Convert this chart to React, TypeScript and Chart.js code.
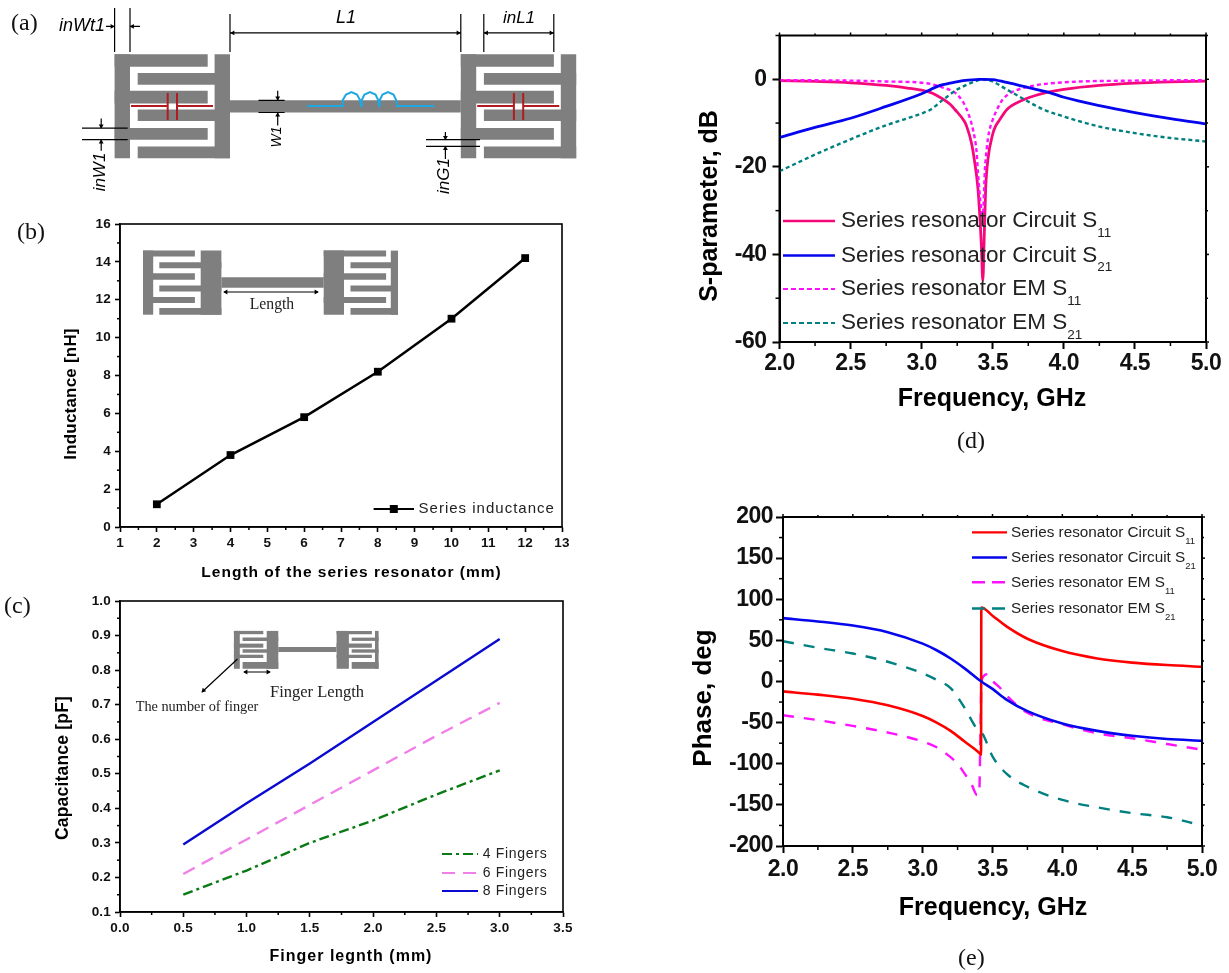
import React, { useEffect, useRef } from "react";
import { Chart, registerables } from "chart.js";
Chart.register(...registerables);

// ---------- Panel (b) data ----------
const lengthMm = [2, 4, 6, 8, 10, 12];
const inductanceNh = [1.2, 3.8, 5.8, 8.2, 11.0, 14.2];

// ---------- Panel (c) data ----------
const fingerLength = [0.5, 1.0, 1.5, 2.0, 2.5, 3.0];
const cap4Fingers = [0.15, 0.22, 0.3, 0.365, 0.44, 0.51];
const cap6Fingers = [0.21, 0.31, 0.41, 0.51, 0.61, 0.705];
const cap8Fingers = [0.295, 0.415, 0.53, 0.65, 0.77, 0.89];

// ---------- Panel (d) data ----------
const dS11CircuitF = [2, 2.25, 2.5, 2.75, 2.9, 3, 3.06, 3.1, 3.2, 3.234, 3.3, 3.316, 3.35, 3.37, 3.396, 3.42, 3.43, 3.44, 3.45, 3.466, 3.5, 3.52, 3.55, 3.6, 3.7, 3.8, 3.88, 4, 4.25, 4.5, 4.75, 5];
const dS11Circuit = [-0.3, -0.5, -0.8, -1.4, -2, -2.5, -3, -3.6, -5.7, -6.9, -9.6, -10.7, -14.5, -18.3, -25, -38, -46, -36, -25, -18.3, -12.5, -10.7, -9.2, -6.9, -4.9, -3.7, -3, -2.3, -1.4, -0.9, -0.6, -0.4];
const dS21CircuitF = [2, 2.25, 2.5, 2.75, 3, 3.13, 3.2, 3.29, 3.4, 3.43, 3.5, 3.62, 3.7, 3.9, 4, 4.25, 4.5, 4.75, 5];
const dS21Circuit = [-13.3, -11, -8.9, -6.2, -3.3, -1.4, -0.9, -0.3, -0.03, 0, -0.1, -0.9, -1.5, -3.05, -4.1, -6, -7.6, -9, -10.2];
const dS11EmF = [2, 2.5, 2.75, 3.035, 3.15, 3.234, 3.293, 3.33, 3.363, 3.387, 3.396, 3.43, 3.445, 3.457, 3.473, 3.5, 3.53, 3.57, 3.633, 3.78, 4, 4.5, 5];
const dS11Em = [-0.2, -0.3, -0.5, -0.9, -1.9, -3.05, -5.3, -8, -11.8, -16.8, -21.4, -31, -20.6, -16, -12.2, -9.2, -6.9, -4.6, -3, -1.5, -0.7, -0.3, -0.2];
const dS21EmF = [2, 2.25, 2.5, 2.75, 3, 3.058, 3.15, 3.246, 3.3, 3.4, 3.43, 3.5, 3.57, 3.69, 3.85, 4, 4.25, 4.5, 4.75, 5];
const dS21Em = [-21, -17.2, -13.7, -10.5, -7.8, -7, -4.7, -2.4, -1.5, -0.2, 0, -0.5, -1.8, -4, -6.8, -8.5, -10.8, -12.3, -13.4, -14.2];

// ---------- Panel (e) data ----------
const eS11CircuitF = [2, 2.25, 2.5, 2.75, 3, 3.1, 3.2, 3.3, 3.4, 3.418, 3.42, 3.5, 3.6, 3.75, 4, 4.25, 4.5, 4.75, 5];
const eS11Circuit = [-12, -16, -21, -29, -42, -50, -60, -73, -86, -89, 90, 80, 67, 52, 37, 28, 23, 20, 18];
const eS21CircuitF = [2, 2.25, 2.5, 2.75, 3, 3.1, 3.2, 3.3, 3.42, 3.5, 3.6, 3.75, 4, 4.25, 4.5, 4.75, 5];
const eS21Circuit = [77, 73, 68, 60, 46, 38, 28, 16, 0, -9, -22, -36, -51, -60, -66, -70, -72];
const eS11EmF = [2, 2.25, 2.5, 2.75, 3, 3.1, 3.2, 3.25, 3.3, 3.35, 3.39, 3.405, 3.41, 3.415, 3.42, 3.43, 3.47, 3.5, 3.55, 3.6, 3.75, 4, 4.25, 4.5, 4.75, 5];
const eS11Em = [-41, -47, -54, -62, -73, -80, -92, -100, -112, -125, -138, -138, -100, -50, -5, 5, 9, 1, -7, -17, -38, -52, -63, -69, -76, -83];
const eS21EmF = [2, 2.25, 2.5, 2.75, 3, 3.1, 3.2, 3.3, 3.386, 3.43, 3.5, 3.6, 3.75, 4, 4.25, 4.5, 4.75, 4.93];
const eS21Em = [49, 41, 34, 24, 10, 2, -8, -32, -57, -64, -91, -112, -128, -144, -153, -160, -165, -172];

// ---------- Labels ----------
const seriesLabelsD = ["Series resonator Circuit S", "Series resonator Circuit S", "Series resonator EM S", "Series resonator EM S"];
const seriesSubs = ["11", "21", "11", "21"];
const fingerLabels = ["4 Fingers", "6 Fingers", "8 Fingers"];
const SANS = '"Liberation Sans", Arial, sans-serif';
const SERIF = '"Liberation Serif", "Times New Roman", serif';

const zip = (xs: number[], ys: number[]) => xs.map((x, i) => ({ x, y: ys[i] }));

type TextItem = { t: string; x: number; y: number; font: string; rot?: number; align?: CanvasTextAlign; ls?: string; color?: string };
type LegendItem = { label: string; sub?: string; color: string; dash?: number[]; width: number; y: number; marker?: boolean };

function drawText(ctx: CanvasRenderingContext2D, it: TextItem) {
  ctx.save();
  ctx.translate(it.x, it.y);
  if (it.rot) ctx.rotate(it.rot);
  ctx.font = it.font;
  ctx.fillStyle = it.color || "#000";
  ctx.textAlign = it.align || "center";
  ctx.textBaseline = "middle";
  (ctx as any).letterSpacing = it.ls || "0px";
  ctx.fillText(it.t, 0, 0);
  ctx.restore();
}

type PanelCfg = {
  canvas: [number, number, number, number];
  plot: [number, number, number, number];
  x: [number, number, number, number];
  y: [number, number, number, number];
  digitsX: number;
  digitsY: number;
  tickFont: { size: number };
  tickLen: number;
  minorLen: number;
  padX: number;
  padY: number;
  frame: number;
  mirror: boolean;
  spacing: string;
  series: any[];
  texts: TextItem[];
  legend: { items: LegendItem[]; x0: number; x1: number; xText: number; font: string; ls?: string; subFont?: string; subDy?: number };
};

function Panel({ cfg }: { cfg: PanelCfg }) {
  const ref = useRef<HTMLCanvasElement>(null);
  useEffect(() => {
    const [cl, ct, cr, cb] = cfg.canvas;
    const [pl, pt, pr, pb] = cfg.plot;
    const decor = {
      id: "decor",
      beforeDraw(chart: any) {
        chart.ctx.letterSpacing = cfg.spacing;
      },
      afterDraw(chart: any) {
        const ctx = chart.ctx as CanvasRenderingContext2D;
        const a = chart.chartArea;
        ctx.save();
        (ctx as any).letterSpacing = "0px";
        ctx.strokeStyle = "#000";
        ctx.lineWidth = cfg.frame;
        ctx.strokeRect(a.left, a.top, a.right - a.left, a.bottom - a.top);
        const tick = (x1: number, y1: number, x2: number, y2: number) => {
          ctx.beginPath();
          ctx.moveTo(x1, y1);
          ctx.lineTo(x2, y2);
          ctx.stroke();
        };
        const [x0, x1, xMaj, xMin] = cfg.x;
        const [y0, y1, yMaj, yMin] = cfg.y;
        ctx.lineWidth = Math.max(1.5, cfg.frame - 0.5);
        const nx = Math.round((x1 - x0) / xMin);
        for (let i = 0; i <= nx; i++) {
          const v = x0 + i * xMin;
          const p = chart.scales.x.getPixelForValue(v);
          const isMaj = Math.abs(v / xMaj - Math.round(v / xMaj)) < 1e-6;
          if (!isMaj) tick(p, a.bottom, p, a.bottom + cfg.minorLen);
          if (cfg.mirror) tick(p, a.top, p, a.top - (isMaj ? 3 : 2));
        }
        const ny = Math.round((y1 - y0) / yMin);
        for (let i = 0; i <= ny; i++) {
          const v = y0 + i * yMin;
          const p = chart.scales.y.getPixelForValue(v);
          const isMaj = Math.abs(v / yMaj - Math.round(v / yMaj)) < 1e-6;
          if (!isMaj) tick(a.left, p, a.left - cfg.minorLen, p);
          if (cfg.mirror) tick(a.right, p, a.right + (isMaj ? 3 : 2), p);
        }
        ctx.translate(-cl, -ct);
        const lg = cfg.legend;
        lg.items.forEach((it) => {
          ctx.save();
          ctx.strokeStyle = it.color;
          ctx.lineWidth = it.width;
          ctx.setLineDash(it.dash || []);
          tick(lg.x0, it.y, lg.x1, it.y);
          ctx.restore();
          if (it.marker) {
            ctx.fillStyle = it.color;
            ctx.fillRect((lg.x0 + lg.x1) / 2 - 4, it.y - 4, 8, 8);
          }
          ctx.font = lg.font;
          (ctx as any).letterSpacing = lg.ls || "0px";
          ctx.fillStyle = "#222";
          ctx.textAlign = "left";
          ctx.textBaseline = "middle";
          ctx.fillText(it.label, lg.xText, it.y);
          if (it.sub) {
            const w = ctx.measureText(it.label).width;
            ctx.font = lg.subFont || lg.font;
            ctx.fillText(it.sub, lg.xText + w, it.y + (lg.subDy || 0));
          }
          (ctx as any).letterSpacing = "0px";
        });
        cfg.texts.forEach((t) => drawText(ctx, t));
        ctx.restore();
      },
    };
    const L = pl - cl;
    const B = cb - pb;
    const fmt = (d: number) => (v: any) => Number(v).toFixed(d);
    const chart = new Chart(ref.current!, {
      type: "scatter",
      data: { datasets: cfg.series },
      plugins: [decor],
      options: {
        animation: false,
        responsive: false,
        devicePixelRatio: 1,
        layout: { autoPadding: false, padding: { left: 0, bottom: 0, top: pt - ct, right: cr - pr } },
        plugins: { legend: { display: false }, tooltip: { enabled: false }, title: { display: false } },
        scales: {
          x: {
            type: "linear",
            min: cfg.x[0],
            max: cfg.x[1],
            afterFit(s: any) {
              s.height = B;
              s.paddingLeft = s.paddingRight = 0;
            },
            grid: { display: true, drawOnChartArea: false, drawTicks: true, tickLength: cfg.tickLen, tickColor: "#000", tickWidth: cfg.frame },
            border: { display: true, color: "#000", width: cfg.frame },
            ticks: {
              stepSize: cfg.x[2],
              includeBounds: false,
              autoSkip: false,
              maxRotation: 0,
              color: "#111",
              padding: cfg.padX,
              font: { family: SANS, weight: "bold", size: cfg.tickFont.size },
              callback: fmt(cfg.digitsX),
            },
          },
          y: {
            type: "linear",
            min: cfg.y[0],
            max: cfg.y[1],
            afterFit(s: any) {
              s.width = L;
              s.paddingTop = s.paddingBottom = 0;
            },
            grid: { display: true, drawOnChartArea: false, drawTicks: true, tickLength: cfg.tickLen, tickColor: "#000", tickWidth: cfg.frame },
            border: { display: true, color: "#000", width: cfg.frame },
            ticks: {
              stepSize: cfg.y[2],
              includeBounds: false,
              autoSkip: false,
              color: "#111",
              padding: cfg.padY,
              font: { family: SANS, weight: "bold", size: cfg.tickFont.size },
              callback: fmt(cfg.digitsY),
            },
          },
        },
      } as any,
    });
    return () => chart.destroy();
  }, []);
  const [cl, ct, cr, cb] = cfg.canvas;
  return (
    <canvas
      ref={ref}
      width={cr - cl}
      height={cb - ct}
      style={{ position: "absolute", left: cl, top: ct, width: cr - cl, height: cb - ct }}
    />
  );
}

// ---------- Schematic geometry (drawn as thick line datasets on a page-sized scale) ----------
type Block = { barL: number[]; barR: number[]; endL: number; startR: number; ys: number[][] };
const blockRects = (b: Block) => {
  const top = b.ys[0][0];
  const bot = b.ys[5][1];
  const r: number[][] = [
    [b.barL[0], top, b.barL[1], bot],
    [b.barR[0], top, b.barR[1], bot],
  ];
  b.ys.forEach((y, i) => {
    if (i % 2 === 0) r.push([b.barL[0], y[0], b.endL, y[1]]);
    else r.push([b.startR, y[0], b.barR[1], y[1]]);
  });
  return r;
};
const ysA = [[54.2, 66.8], [72.9, 84.7], [90.8, 103.4], [109.5, 121], [128.1, 139.7], [146.4, 158.3]];
const ysB = [[250.6, 256.6], [262.2, 268.2], [273.2, 279.8], [285.5, 291.4], [297.1, 303], [308, 314.7]];
const ysC = [[630.9, 634.2], [637.6, 640.9], [643.6, 647.7], [649.3, 652.7], [654.7, 658], [662, 668.8]];
const grayRects = [
  ...blockRects({ barL: [114.6, 130], barR: [214.6, 230], endL: 207.7, startR: 137.7, ys: ysA }),
  ...blockRects({ barL: [460.8, 476.2], barR: [560.8, 576.2], endL: 553.9, startR: 483.9, ys: ysA }),
  [230, 100.3, 460.8, 112.5],
  ...blockRects({ barL: [143, 153.2], barR: [200.7, 221.4], endL: 194.9, startR: 159.3, ys: ysB }),
  ...blockRects({ barL: [323.7, 344], barR: [390.8, 398], endL: 386.1, startR: 350.5, ys: ysB }),
  [221.4, 277.2, 323.7, 287.8],
  ...blockRects({ barL: [233.9, 239.8], barR: [266.7, 278.3], endL: 263.3, startR: 242.6, ys: ysC }),
  ...blockRects({ barL: [336.6, 348.9], barR: [375, 378.6], endL: 371.9, startR: 351.7, ys: ysC }),
  [278.3, 647, 336.6, 652],
];
const dimensionLines = [
  [114.6, 8, 114.6, 52], [130, 8, 130, 52], [106, 26.4, 114.6, 26.4], [130, 26.4, 140, 26.4],
  [230, 14, 230, 52], [460.8, 14, 460.8, 52], [230, 32.9, 460.8, 32.9],
  [483.8, 14, 483.8, 52], [553.8, 14, 553.8, 52], [483.8, 32.9, 553.8, 32.9],
  [258.5, 100.3, 284.6, 100.3], [258.5, 112.5, 284.6, 112.5], [277.7, 90.8, 277.7, 100.3], [277.7, 112.5, 277.7, 125.4],
  [82, 128.1, 127.7, 128.1], [82, 139.7, 127.7, 139.7], [101.2, 118.6, 101.2, 128.1], [101.2, 139.7, 101.2, 150.8],
  [426, 139.7, 480, 139.7], [426, 146.4, 480, 146.4], [445.4, 132, 445.4, 139.7], [445.4, 146.4, 445.4, 159],
  [224, 292, 318, 292], [244, 672, 270, 672], [237.5, 659, 202, 692],
];
// arrow heads: x, y, rotation
const arrowHeads = [
  [112, 26.4, 90], [132.5, 26.4, -90], [233, 32.9, -90], [458, 32.9, 90], [486.5, 32.9, -90], [551, 32.9, 90],
  [277.7, 98, 180], [277.7, 115, 0], [101.2, 126, 180], [101.2, 142, 0], [445.4, 137.5, 180], [445.4, 148.5, 0],
  [226, 292, -90], [316, 292, 90], [246, 672, -90], [268, 672, 90], [203.5, 690.5, 225],
];
const capacitorLines = [
  [131, 106, 167.7, 106], [177, 106, 213, 106], [167.7, 93, 167.7, 120], [177, 93, 177, 120],
  [477.2, 106, 513.9, 106], [523.2, 106, 559.2, 106], [513.9, 93, 513.9, 120], [523.2, 93, 523.2, 120],
];
const inductorPath = [
  [307, 106], [342, 106], [342.8, 100], [346, 94.5], [351.5, 92], [357, 94.5], [360, 100], [361, 106],
  [361.8, 100], [364.5, 94.5], [370, 92], [375.5, 94.5], [378.2, 100], [379, 106],
  [379.8, 100], [382.5, 94.5], [388, 92], [393.5, 94.5], [396.2, 100], [397, 106], [434, 106],
];
const withGaps = (segs: number[][]) => {
  const out: { x: number; y: number }[] = [];
  segs.forEach((s) => {
    out.push({ x: s[0], y: s[1] }, { x: s[2], y: s[3] }, { x: NaN, y: NaN });
  });
  return out;
};
const it18 = `italic 18px ${SANS}`;
const it17 = `italic 17px ${SANS}`;
const diagramTexts: TextItem[] = [
  { t: "inWt1", x: 82, y: 26.4, font: it18 },
  { t: "L1", x: 346, y: 18, font: it18 },
  { t: "inL1", x: 519, y: 18, font: it17 },
  { t: "W1", x: 277, y: 137, font: `italic 14px ${SANS}`, rot: -Math.PI / 2 },
  { t: "inW1", x: 100, y: 172, font: it17, rot: -Math.PI / 2 },
  { t: "inG1", x: 444, y: 176, font: it17, rot: -Math.PI / 2 },
  { t: "Length", x: 272, y: 305, font: `15.7px ${SERIF}`, color: "#222" },
  { t: "Finger Length", x: 317, y: 693, font: `16.5px ${SERIF}`, color: "#222" },
  { t: "The number of finger", x: 197, y: 707, font: `14.3px ${SERIF}`, color: "#222" },
];

function Diagram() {
  const ref = useRef<HTMLCanvasElement>(null);
  useEffect(() => {
    const lines = (data: any[], color: string, width: number, extra: any = {}) => ({
      data,
      showLine: true,
      borderColor: color,
      backgroundColor: color,
      borderWidth: width,
      pointRadius: 0,
      borderCapStyle: "butt",
      spanGaps: false,
      tension: 0,
      ...extra,
    });
    // Chart.js paints the first dataset last, so the overlays come first and the gray metal last.
    const datasets: any[] = [];
    datasets.push({
      data: arrowHeads.map((a) => ({ x: a[0], y: a[1] })),
      showLine: false,
      pointStyle: "triangle",
      pointRadius: 2.8,
      pointRotation: arrowHeads.map((a) => a[2]),
      backgroundColor: "#000",
      borderColor: "#000",
      borderWidth: 0,
    });
    datasets.push(lines(withGaps(dimensionLines), "#000", 1.2));
    datasets.push(lines(withGaps(capacitorLines), "#b01c22", 2));
    datasets.push(lines(inductorPath.map((p) => ({ x: p[0], y: p[1] })), "#1ea7e0", 2));
    grayRects.forEach((r) =>
      datasets.push(lines([{ x: r[0], y: (r[1] + r[3]) / 2 }, { x: r[2], y: (r[1] + r[3]) / 2 }], "#7f7f7f", r[3] - r[1]))
    );
    const texts = {
      id: "texts",
      afterDraw(chart: any) {
        diagramTexts.forEach((t) => drawText(chart.ctx, t));
      },
    };
    const chart = new Chart(ref.current!, {
      type: "scatter",
      data: { datasets },
      plugins: [texts],
      options: {
        animation: false,
        responsive: false,
        devicePixelRatio: 1,
        layout: { padding: 0, autoPadding: false },
        plugins: { legend: { display: false }, tooltip: { enabled: false } },
        scales: {
          x: { type: "linear", display: false, min: 0, max: 1229 },
          y: { type: "linear", display: false, min: 0, max: 973, reverse: true },
        },
      } as any,
    });
    return () => chart.destroy();
  }, []);
  return <canvas ref={ref} width={1229} height={973} style={{ position: "absolute", left: 0, top: 0, pointerEvents: "none" }} />;
}

// ---------- Panel configs ----------
const lineDs = (xs: number[], ys: number[], color: string, width: number, dash?: number[], smooth = true) => ({
  data: zip(xs, ys),
  showLine: true,
  borderColor: color,
  backgroundColor: color,
  borderWidth: width,
  borderDash: dash || [],
  pointRadius: 0,
  tension: 0,
  cubicInterpolationMode: smooth ? "monotone" : "default",
  clip: false,
});

const panelB: PanelCfg = {
  canvas: [40, 205, 590, 590],
  plot: [120, 224, 562, 527],
  x: [1, 13, 1, 0.5],
  y: [0, 16, 2, 1],
  digitsX: 0,
  digitsY: 0,
  tickFont: { size: 13.5 },
  tickLen: 5,
  minorLen: 3,
  padX: 3,
  padY: 4,
  frame: 1.6,
  mirror: false,
  spacing: "0.2px",
  series: [
    {
      ...lineDs(lengthMm, inductanceNh, "#000", 2.5, undefined, false),
      pointRadius: 5.5,
      pointStyle: "rect",
      pointBackgroundColor: "#000",
      pointBorderWidth: 0,
    },
  ],
  texts: [
    { t: "Length of the series resonator (mm)", x: 351.5, y: 573, font: `bold 15.5px ${SANS}`, ls: "1px" },
    { t: "Inductance [nH]", x: 71, y: 394, font: `bold 17px ${SANS}`, rot: -Math.PI / 2, ls: "0.2px" },
  ],
  legend: {
    items: [{ label: "Series inductance", color: "#000", width: 2, y: 509, marker: true }],
    x0: 373.6,
    x1: 414,
    xText: 418.6,
    font: `15px ${SANS}`,
    ls: "1px",
  },
};

const panelC: PanelCfg = {
  canvas: [30, 590, 590, 973],
  plot: [120, 601, 563, 912],
  x: [0, 3.5, 0.5, 0.25],
  y: [0.1, 1, 0.1, 0.05],
  digitsX: 1,
  digitsY: 1,
  tickFont: { size: 13.5 },
  tickLen: 5,
  minorLen: 3,
  padX: 3,
  padY: 4,
  frame: 1.6,
  mirror: false,
  spacing: "0.2px",
  series: [
    lineDs(fingerLength, cap8Fingers, "#0a0ad0", 2.4, undefined, false),
    lineDs(fingerLength, cap6Fingers, "#f080e8", 2.4, [13, 8], false),
    lineDs(fingerLength, cap4Fingers, "#0a7a14", 2.4, [10, 4, 3, 4], false),
  ],
  texts: [
    { t: "Finger legnth (mm)", x: 351, y: 957, font: `bold 16px ${SANS}`, ls: "1px" },
    { t: "Capacitance [pF]", x: 63, y: 768, font: `bold 17.5px ${SANS}`, rot: -Math.PI / 2, ls: "0.2px" },
  ],
  legend: {
    items: [
      { label: fingerLabels[0], color: "#0a7a14", width: 2.2, dash: [10, 4, 3, 4], y: 854 },
      { label: fingerLabels[1], color: "#f080e8", width: 2.2, dash: [13, 8], y: 873 },
      { label: fingerLabels[2], color: "#0a0ad0", width: 2.2, y: 891 },
    ],
    x0: 442,
    x1: 478,
    xText: 482.7,
    font: `14px ${SANS}`,
    ls: "0.7px",
  },
};

const dCol = ["#f5087a", "#0505ee", "#ff10ff", "#008080"];
const panelD: PanelCfg = {
  canvas: [685, 20, 1229, 420],
  plot: [779.5, 35.5, 1206, 342],
  x: [2, 5, 0.5, 0.25],
  y: [-60, 10, 20, 10],
  digitsX: 1,
  digitsY: 0,
  tickFont: { size: 23 },
  tickLen: 7,
  minorLen: 4,
  padX: 1,
  padY: 6,
  frame: 2,
  mirror: true,
  spacing: "-0.5px",
  series: [
    lineDs(dS21CircuitF, dS21Circuit, dCol[1], 2.8),
    lineDs(dS21EmF, dS21Em, dCol[3], 2.4, [4, 3]),
    lineDs(dS11EmF, dS11Em, dCol[2], 2.4, [4, 3]),
    lineDs(dS11CircuitF, dS11Circuit, dCol[0], 2.8),
  ],
  texts: [
    { t: "Frequency, GHz", x: 992, y: 399, font: `bold 25px ${SANS}` },
    { t: "S-parameter, dB", x: 710, y: 206, font: `bold 25px ${SANS}`, rot: -Math.PI / 2 },
  ],
  legend: {
    items: [0, 1, 2, 3].map((i) => ({
      label: seriesLabelsD[i],
      sub: seriesSubs[i],
      color: dCol[i],
      width: i < 2 ? 2.6 : 2.2,
      dash: i < 2 ? undefined : [5, 3],
      y: [221, 255.5, 289, 323][i],
    })),
    x0: 783,
    x1: 835,
    xText: 841,
    font: `22.5px ${SANS}`,
    subFont: `13.5px ${SANS}`,
    subDy: 12,
  },
};

const eCol = ["#ff0000", "#0505ee", "#ff10ff", "#008080"];
const panelE: PanelCfg = {
  canvas: [685, 505, 1229, 930],
  plot: [783, 517, 1202, 846],
  x: [2, 5, 0.5, 0.25],
  y: [-200, 200, 50, 25],
  digitsX: 1,
  digitsY: 0,
  tickFont: { size: 23 },
  tickLen: 7,
  minorLen: 4,
  padX: 3,
  padY: 3,
  frame: 2,
  mirror: true,
  spacing: "-0.5px",
  series: [
    lineDs(eS21CircuitF, eS21Circuit, eCol[1], 2.6),
    lineDs(eS11CircuitF, eS11Circuit, eCol[0], 2.6),
    lineDs(eS11EmF, eS11Em, eCol[2], 2.4, [11, 10]),
    lineDs(eS21EmF, eS21Em, eCol[3], 2.4, [11, 10]),
  ],
  texts: [
    { t: "Frequency, GHz", x: 993, y: 908, font: `bold 25px ${SANS}` },
    { t: "Phase, deg", x: 704, y: 698, font: `bold 26px ${SANS}`, rot: -Math.PI / 2 },
  ],
  legend: {
    items: [0, 1, 2, 3].map((i) => ({
      label: seriesLabelsD[i],
      sub: seriesSubs[i],
      color: eCol[i],
      width: 2.4,
      dash: i < 2 ? undefined : [13, 7],
      y: [532.4, 557.5, 582.3, 608.5][i],
    })),
    x0: 972,
    x1: 1007,
    xText: 1011,
    font: `15.3px ${SANS}`,
    subFont: `9.5px ${SANS}`,
    subDy: 9,
  },
};

const letters = [
  { t: "(a)", x: 11, y: 9 },
  { t: "(b)", x: 17, y: 218 },
  { t: "(c)", x: 4, y: 592 },
  { t: "(d)", x: 957, y: 427 },
  { t: "(e)", x: 958, y: 944 },
];

export default function App() {
  return (
    <div style={{ position: "absolute", left: 0, top: 0, width: 1229, height: 973, background: "#fff", overflow: "hidden" }}>
      <Panel cfg={panelB} />
      <Panel cfg={panelC} />
      <Panel cfg={panelD} />
      <Panel cfg={panelE} />
      <Diagram />
      {letters.map((l) => (
        <span key={l.t} style={{ position: "absolute", left: l.x, top: l.y, font: `24px/26px ${SERIF}`, color: "#111" }}>
          {l.t}
        </span>
      ))}
    </div>
  );
}
